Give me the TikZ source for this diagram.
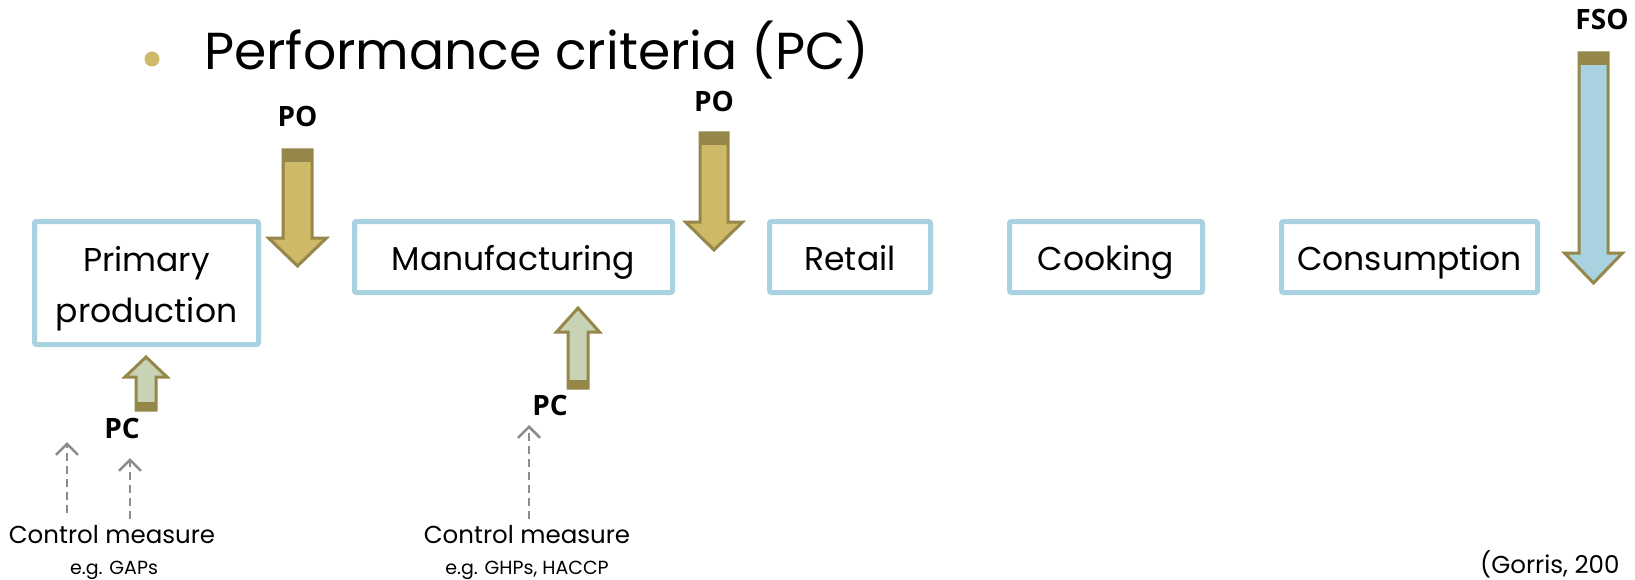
\documentclass[tikz,border=0pt]{standalone}
\usepackage{fontspec}
\setmainfont{Poppins}
\newfontfamily\lblfont{Open Sans}
\usetikzlibrary{arrows.meta}

\definecolor{boxblue}{HTML}{A9D2E0}
\definecolor{goldfill}{HTML}{CDB967}
\definecolor{goldline}{HTML}{958649}
\definecolor{sagefill}{HTML}{C8D3B6}
\definecolor{skyfill}{HTML}{A8D2E0}
\definecolor{dashgray}{HTML}{8C8C8C}

\tikzset{
  stage/.style={draw=boxblue, line width=5pt, rounded corners=2pt, fill=white,
    font=\fontsize{33}{51}\selectfont, align=center, inner sep=0pt,
    text height=27pt, text depth=0pt, minimum height=71pt},
  blockarrow/.style={draw=goldline, line width=3pt, line join=miter},
  band/.style={fill=goldline},
  tag/.style={font=\lblfont\bfseries\fontsize{28}{32}\selectfont, anchor=base, inner sep=0pt},
  note/.style={font=\fontsize{24.5}{28}\selectfont, anchor=base, inner sep=0pt},
  subnote/.style={font=\fontsize{19}{22}\selectfont, anchor=base, inner sep=0pt},
  dasharrow/.style={draw=dashgray, line width=2.5pt, dash pattern=on 8pt off 5pt,
    -{Straight Barb[length=11pt,width=22pt,line width=2.5pt]}},
}

\begin{document}
\begin{tikzpicture}[x=1pt,y=-1pt]
\useasboundingbox[fill=white] (0,0) rectangle (1635,580);

% heading
\fill[goldfill] (152,59) circle (7.5);
\node[anchor=base west, inner sep=0pt, font=\fontsize{52}{60}\selectfont] (title) at (204,70) {Performance criteria (PC)};

% food chain stages
\node[stage, minimum width=224pt, minimum height=123pt, text height=78pt] (primary) at (146.5,283) {Primary\\production};
\node[stage, minimum width=318pt] (manuf) at (513.5,257) {Manufacturing};
\node[stage, minimum width=161pt] (retail) at (850,257) {Retail};
\node[stage, minimum width=193pt] (cook) at (1106,257) {Cooking};
\node[stage, minimum width=256pt] (consume) at (1409.5,257) {Consumption};

% performance objectives (down arrows)
\path[blockarrow, fill=goldfill] (283,150) -- (312,150) -- (312,238) -- (326.5,238) -- (297.5,266) -- (268.5,238) -- (283,238) -- cycle;
\fill[band] (283,150) rectangle (312,162);
\node[tag] (po1) at (297.5,127) {PO};

\path[blockarrow, fill=goldfill] (700,133) -- (728,133) -- (728,222) -- (742.5,222) -- (714,250) -- (685.5,222) -- (700,222) -- cycle;
\fill[band] (700,133) rectangle (728,145);
\node[tag] (po2) at (714,112) {PO};

% food safety objective
\path[blockarrow, fill=skyfill] (1579,53) -- (1608,53) -- (1608,253) -- (1622.5,253) -- (1593.5,283) -- (1564.5,253) -- (1579,253) -- cycle;
\fill[band] (1579,53) rectangle (1608,65);
\node[tag] (fso) at (1602,30) {FSO};

% performance criteria (up arrows)
\path[blockarrow, fill=sagefill] (136,410) -- (156,410) -- (156,377) -- (167,377) -- (146,357) -- (125,377) -- (136,377) -- cycle;
\fill[band] (136,402) rectangle (156,410);
\node[tag] (pc1) at (122,438) {PC};

\path[blockarrow, fill=sagefill] (568,388) -- (588,388) -- (588,332) -- (599.5,332) -- (578,308) -- (556.5,332) -- (568,332) -- cycle;
\fill[band] (568,380) rectangle (588,388);
\node[tag] (pc2) at (550,415) {PC};

% control measures
\node[note] (cm1) at (112,543) {Control measure};
\node[subnote] (cm1eg) at (114,574) {e.g. GAPs};
\node[note] (cm2) at (527,543) {Control measure};
\node[subnote] (cm2eg) at (527,574) {e.g. GHPs, HACCP};

\coordinate (cm1a) at (67,513);
\coordinate (cm1at) at (67,442);
\coordinate (cm1b) at (130,519);
\coordinate (cm1bt) at (130,458);
\coordinate (cm2a) at (529,519);
\coordinate (cm2at) at (529,425);
\draw[dasharrow] (cm1a) -- (cm1at);
\draw[dasharrow] (cm1b) -- (cm1bt);
\draw[dasharrow] (cm2a) -- (cm2at);

% source
\node[note, anchor=base west] (src) at (1480,573) {(Gorris, 200};
\end{tikzpicture}
\end{document}
